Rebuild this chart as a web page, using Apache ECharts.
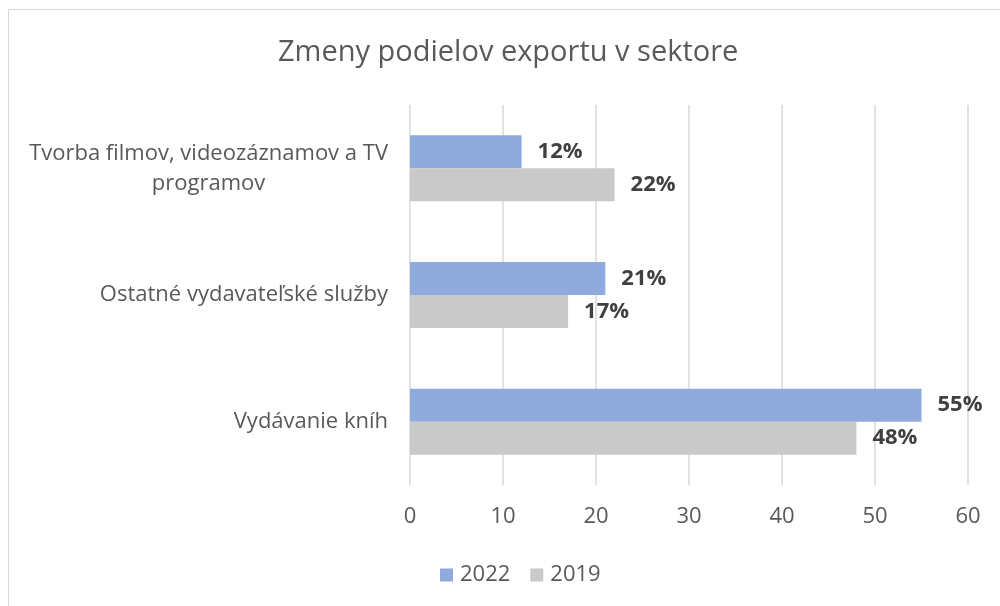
<!DOCTYPE html>
<html>
<head>
<meta charset="utf-8">
<script src="https://cdn.jsdelivr.net/npm/echarts@6/dist/echarts.min.js"></script>
<style>
  html, body { margin: 0; padding: 0; background: #fff; }
  #chart { width: 1000px; height: 606px; }
</style>
</head>
<body>
<div id="chart"></div>
<script>
const categories = [
  "Tvorba filmov, videozáznamov a TV\nprogramov",
  "Ostatné vydavateľské služby",
  "Vydávanie kníh",
];
const values2022 = [12, 21, 55];
const values2019 = [22, 17, 48];
const xTicks = [0, 10, 20, 30, 40, 50, 60];

const font = "'Open Sans', sans-serif";
const chart = echarts.init(document.getElementById("chart"));

const barLabel = {
  show: true,
  position: "right",
  distance: 16,
  formatter: "{c}%",
  fontFamily: font,
  fontSize: 22,
  fontWeight: "bold",
  color: "#404040",
};

chart.setOption({
  animation: false,
  textStyle: { fontFamily: font },
  title: {
    text: "Zmeny podielov exportu v sektore",
    left: 278,
    top: 38,
    padding: 0,
    textStyle: { fontFamily: font, fontSize: 29, fontWeight: "normal", color: "#595959" },
  },
  graphic: [
    {
      type: "rect",
      shape: { x: 8.5, y: 9.5, width: 1200, height: 800 },
      style: { fill: "none", stroke: "#d9d9d9", lineWidth: 1 },
      silent: true,
    },
  ],
  legend: {
    bottom: 15,
    left: 435,
    itemWidth: 13,
    itemHeight: 13,
    itemGap: 20,
    icon: "rect",
    textStyle: { fontFamily: font, fontSize: 22, color: "#595959", padding: [0, 0, 0, 2] },
    data: ["2022", "2019"],
  },
  grid: { left: 410, right: 32, top: 105, bottom: 121 },
  xAxis: {
    type: "value",
    min: xTicks[0],
    max: xTicks[xTicks.length - 1],
    interval: 10,
    axisLine: { show: false },
    axisTick: { show: false },
    splitLine: { lineStyle: { color: "#d9d9d9", width: 1.5 } },
    axisLabel: { margin: 21, fontSize: 22, color: "#595959", fontFamily: font },
  },
  yAxis: {
    type: "category",
    inverse: true,
    data: categories,
    axisLine: { show: false },
    axisTick: { show: false },
    axisLabel: {
      margin: 22,
      color: "#595959",
      fontSize: 22,
      fontFamily: font,
      lineHeight: 30,
      formatter: (v) => v.split("\n").map((s) => "{c|" + s + "}").join("\n"),
      rich: { c: { align: "center", fontSize: 22, color: "#595959", fontFamily: font, lineHeight: 30 } },
    },
  },
  series: [
    {
      name: "2022",
      type: "bar",
      data: values2022,
      barWidth: 33,
      barGap: "0%",
      itemStyle: { color: "#8faadc" },
      label: barLabel,
    },
    {
      name: "2019",
      type: "bar",
      data: values2019,
      barWidth: 33,
      barGap: "0%",
      itemStyle: { color: "#c9c9c9" },
      label: barLabel,
    },
  ],
});
</script>
</body>
</html>
